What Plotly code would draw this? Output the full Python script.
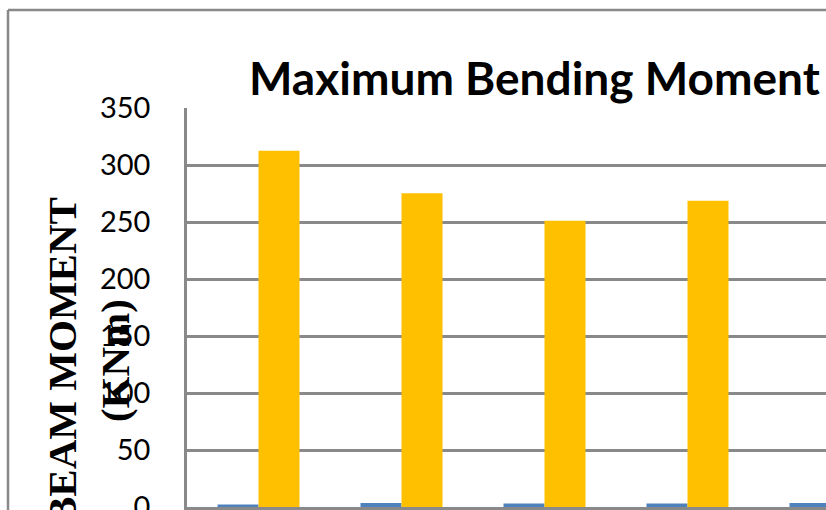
import plotly.graph_objects as go

# Chart data
categories = ["1", "2", "3", "4", "5"]
series_a_name = "Series 1"
series_a = [2.2, 3.6, 3.0, 3.0, 3.6]
series_b_name = "Series 2"
series_b = [312.5, 275.3, 251.0, 268.6, 290.0]
y_ticks = [0, 50, 100, 150, 200, 250, 300, 350]

W, H = 826, 510
plot_left, plot_top, plot_bottom = 187, 108, 507
cat_px = 143.0  # width of one category slot in pixels

grid_col = "#898989"

fig = go.Figure()
fig.add_trace(go.Bar(x=categories, y=series_a, name=series_a_name,
                     marker=dict(color="#4F81BD", line=dict(width=0))))
fig.add_trace(go.Bar(x=categories, y=series_b, name=series_b_name,
                     marker=dict(color="#FFC000", line=dict(width=0))))

visible_cats = (W - plot_left) / cat_px

fig.update_layout(
    width=W, height=H,
    margin=dict(l=0, r=0, t=0, b=0, autoexpand=False),
    paper_bgcolor="white", plot_bgcolor="white",
    showlegend=False,
    barmode="group", bargap=1 - 82 / cat_px, bargroupgap=0,
    xaxis=dict(
        type="category", automargin=False,
        domain=[plot_left / W, 1],
        range=[-0.5, -0.5 + visible_cats],
        showticklabels=False, ticks="", showgrid=False,
        showline=True, linecolor=grid_col, linewidth=3,
        zeroline=False,
    ),
    yaxis=dict(
        automargin=False,
        domain=[(H - plot_bottom) / H, (H - plot_top) / H],
        range=[0, 350],
        tickvals=y_ticks,
        ticktext=[str(v) for v in y_ticks],
        ticks="", ticklabelstandoff=28, ticklabeloverflow="allow",
        tickfont=dict(family="Lato", size=29, color="black"),
        showgrid=True, gridcolor=grid_col, gridwidth=2.5,
        showline=True, linecolor=grid_col, linewidth=2.5,
        zeroline=False,
    ),
    annotations=[
        dict(text="<b>Maximum Bending Moment</b>",
             xref="paper", yref="paper",
             x=534 / W, y=1 - 77 / H, xanchor="center", yanchor="middle",
             showarrow=False,
             font=dict(family="Lato", size=46, color="black")),
        dict(text="<b>BEAM MOMENT<br>(KNm)</b>",
             xref="paper", yref="paper",
             x=88 / W, y=1 - 361 / H, xanchor="center", yanchor="middle",
             textangle=-90, showarrow=False, align="center",
             font=dict(family="Liberation Serif", size=41, color="black")),
    ],
    shapes=[
        # outer chart border (left and top edges)
        dict(type="line", xref="paper", yref="paper",
             x0=8 / W, y0=0, x1=8 / W, y1=1 - 10 / H,
             line=dict(color=grid_col, width=2.5)),
        dict(type="line", xref="paper", yref="paper",
             x0=8 / W, y0=1 - 10 / H, x1=1, y1=1 - 10 / H,
             line=dict(color=grid_col, width=2.5)),
    ],
)

fig.write_html("out.html")
